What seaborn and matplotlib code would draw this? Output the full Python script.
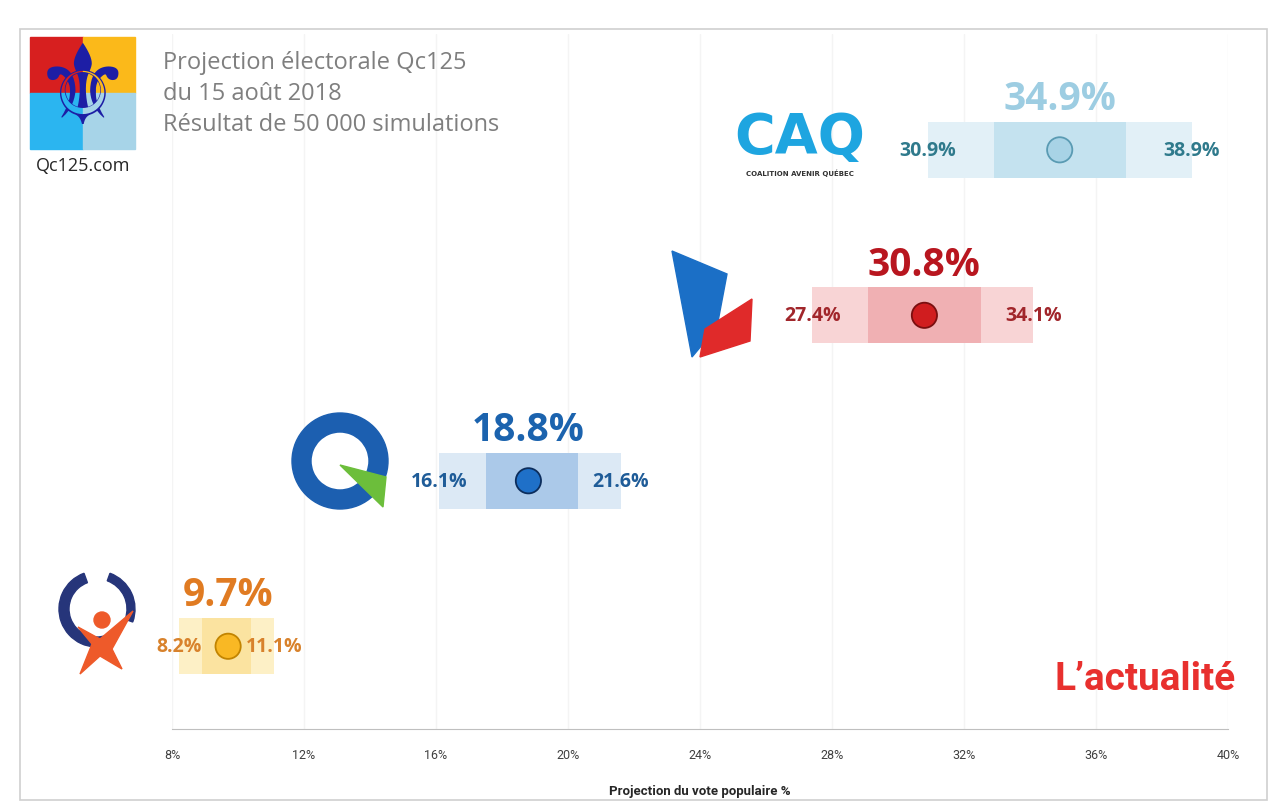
import numpy as np
import matplotlib
matplotlib.use("Agg")
import matplotlib.pyplot as plt
import matplotlib.patches as mpatches
import seaborn as sns
import pandas as pd

# Data (Qc125 projection, 15 Aug 2018)
parties = ["QS", "PQ", "PLQ", "CAQ"]
mean_vote = [9.7, 18.8, 30.8, 34.9]
low_vote = [8.2, 16.1, 27.4, 30.9]
high_vote = [11.1, 21.6, 34.1, 38.9]
inner_low = [8.9, 17.5, 29.1, 32.9]
inner_high = [10.4, 20.3, 32.5, 36.9]
x_ticks = [8, 12, 16, 20, 24, 28, 32, 36, 40]

# party styling
outer_col = ["#fdf0c6", "#dce9f5", "#f8d4d5", "#e2f0f7"]
inner_col = ["#fbe3a0", "#abc9e9", "#f0b0b3", "#c4e2ef"]
dot_col = ["#f9b824", "#1f70c8", "#d01d1f", "#a8d3e6"]
dot_edge = ["#c28400", "#0c2d5c", "#7a0f10", "#5a9bb3"]
big_col = ["#e07b22", "#1b63ae", "#b8161f", "#9dcde2"]
small_col = ["#d8822c", "#1f5c98", "#a1262b", "#2f7a8c"]

df = pd.DataFrame({"party": parties, "mean": mean_vote, "low": low_vote,
                   "high": high_vote, "ilow": inner_low, "ihigh": inner_high})
df["y"] = np.arange(1, len(parties) + 1)

sns.set_style("white")
plt.rcParams["font.family"] = ["Open Sans", "DejaVu Sans"]
narrow = ["Liberation Sans Narrow", "DejaVu Sans Condensed", "Roboto", "DejaVu Sans"]

fig = plt.figure(figsize=(12.72, 8.12), dpi=100)
ax = fig.add_axes([172 / 1272, 82 / 812, 1056 / 1272, 695 / 812])

# range bars
ax.barh(df["y"], df["high"] - df["low"], left=df["low"], height=0.34,
        color=outer_col, linewidth=0, zorder=2)
ax.barh(df["y"], df["ihigh"] - df["ilow"], left=df["ilow"], height=0.34,
        color=inner_col, linewidth=0, zorder=3)

# mean points
sns.scatterplot(data=df, x="mean", y="y", hue="party", palette=dot_col,
                s=330, edgecolor=dot_edge, linewidth=1.3, legend=False,
                zorder=4, ax=ax)

for i, r in df.iterrows():
    ax.text(r["mean"], r["y"] + 0.31, f"{r['mean']:.1f}%", ha="center",
            va="center", fontsize=28, fontweight="bold", color=big_col[i])
    ax.text(r["low"], r["y"], f"{r['low']:.1f}%", ha="center", va="center",
            fontsize=14, fontweight="bold", color=small_col[i], zorder=5)
    ax.text(r["high"], r["y"], f"{r['high']:.1f}%", ha="center", va="center",
            fontsize=14, fontweight="bold", color=small_col[i], zorder=5)

ax.set_xlim(8, 40)
ax.set_ylim(0.5, 4.7)
ax.set_xticks(x_ticks)
ax.set_xticklabels([f"{t}%" for t in x_ticks], fontsize=9, color="#404040",
                   family=narrow)
ax.set_yticks([])
ax.grid(axis="x", color="#f4f4f4", linewidth=1)
for s in ["top", "right", "left"]:
    ax.spines[s].set_visible(False)
ax.spines["bottom"].set_color("#bfbfbf")
ax.tick_params(axis="x", direction="in", length=6, color="#bfbfbf", pad=14)
ax.set_xlabel("Projection du vote populaire %", fontsize=9.5, fontweight="bold",
              color="#262626", labelpad=16, family=narrow)
ax.set_ylabel("")

# overlay in pixel coordinates for frame, title and logos
ov = fig.add_axes([0, 0, 1, 1])
ov.set_xlim(0, 1272)
ov.set_ylim(812, 0)
ov.axis("off")
ov.patch.set_alpha(0)

ov.add_patch(mpatches.Rectangle((20, 30), 1247, 771, fill=False,
                                edgecolor="#cfcfcf", linewidth=1.2))

# Qc125 logo
ov.add_patch(mpatches.Rectangle((30, 38), 53, 56, color="#d71f1f"))
ov.add_patch(mpatches.Rectangle((83, 38), 52, 56, color="#fbb91a"))
ov.add_patch(mpatches.Rectangle((30, 94), 53, 56, color="#2bb5f0"))
ov.add_patch(mpatches.Rectangle((83, 94), 52, 56, color="#a7d4e8"))
ov.text(83, 94, "\u269c", fontsize=80, color="#1d1ea5", ha="center",
        va="center", family="DejaVu Sans")
ov.text(83, 166, "Qc125.com", fontsize=13, color="#262626", ha="center",
        va="center")

ov.text(163, 51, "Projection électorale Qc125\ndu 15 août 2018\n"
        "Résultat de 50 000 simulations", fontsize=17, color="#7f7f7f",
        ha="left", va="top", linespacing=1.38)

# CAQ logo
ov.text(800, 138, "CAQ", fontsize=40, fontweight="heavy", color="#1ea5e0",
        ha="center", va="center", family="DejaVu Sans")
ov.text(800, 173, "COALITION AVENIR QUÉBEC", fontsize=5, color="#333333",
        ha="center", va="center", fontweight="bold", family="DejaVu Sans")

# PLQ logo
ov.add_patch(mpatches.Polygon([(672, 252), (727, 275), (717, 328), (692, 358)],
                              color="#1b6fc6"))
ov.add_patch(mpatches.Polygon([(705, 330), (752, 300), (750, 342), (700, 358)],
                              color="#e02a2a"))

# PQ logo
ov.add_patch(mpatches.Wedge((340, 462), 48, 0, 360, width=19, color="#1c5fb0"))
ov.add_patch(mpatches.Polygon([(340, 466), (386, 478), (383, 508)],
                              color="#6cbe3b"))

# QS logo
ov.add_patch(mpatches.Wedge((97, 610), 38, 70, 250, width=10, color="#26357a"))
ov.add_patch(mpatches.Wedge((97, 610), 38, -70, 20, width=8, color="#26357a"))
ov.add_patch(mpatches.Circle((102, 621), 8, color="#ee5a2a"))
ov.add_patch(mpatches.Polygon([(78, 628), (100, 640), (133, 612), (112, 650),
                               (122, 670), (100, 657), (80, 675), (92, 645)],
                              color="#ee5a2a"))

# L'actualité
ov.text(1236, 680, "L\u2019actualité", fontsize=28, fontweight="bold",
        color="#e8302e", ha="right", va="center", family=narrow)

fig.savefig("out.png", dpi=100, facecolor="white")
